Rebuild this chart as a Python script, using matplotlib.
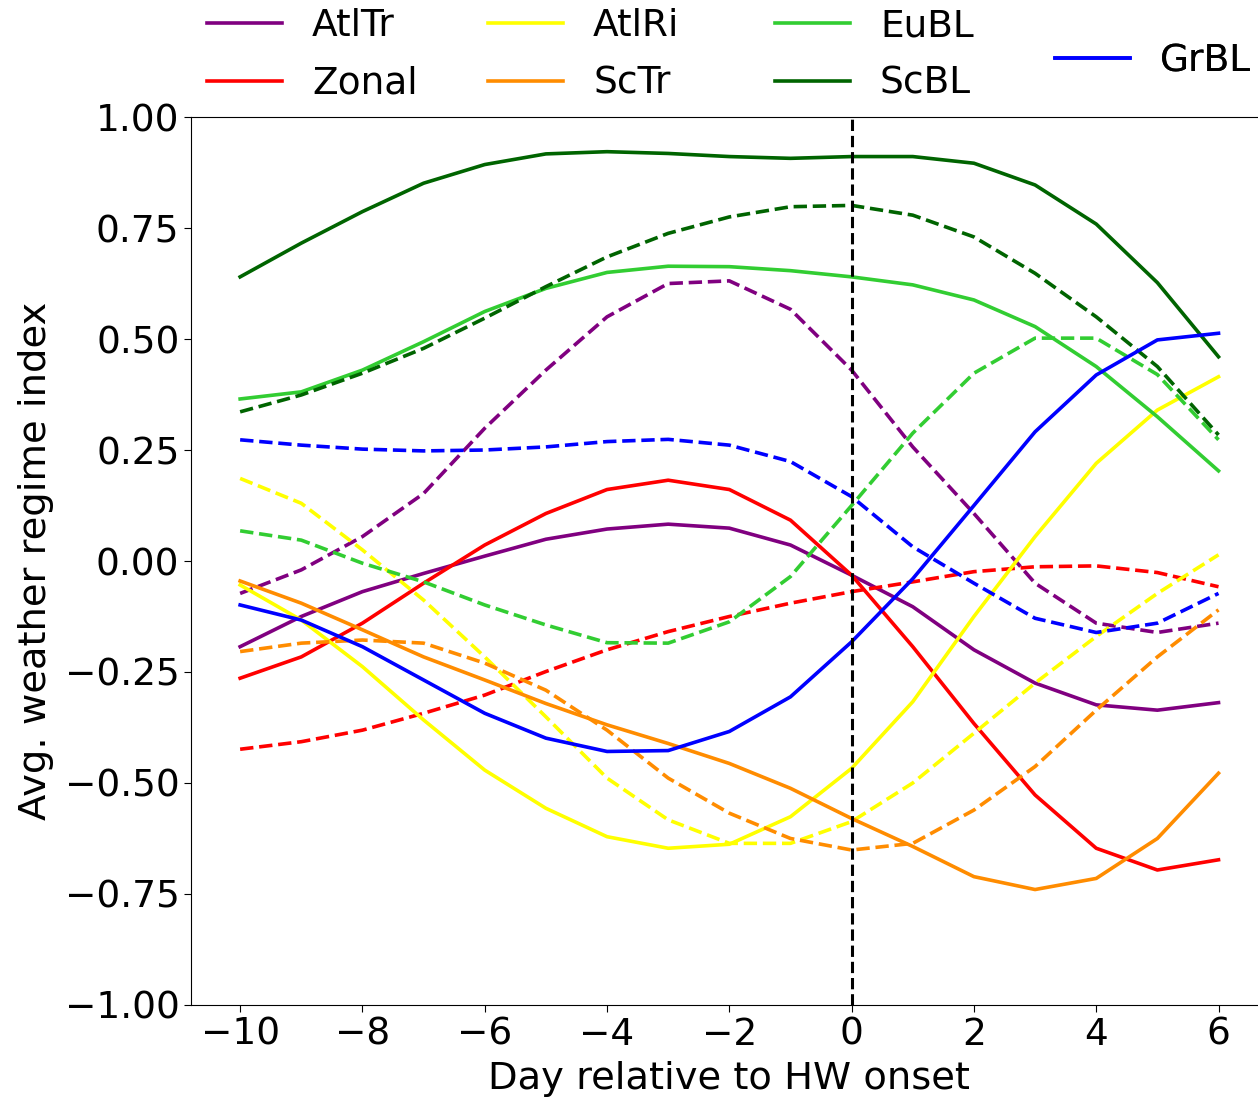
import numpy as np
import matplotlib
matplotlib.use("Agg")
import matplotlib.pyplot as plt

days = np.arange(-10, 7)

regimes = ['AtlTr', 'Zonal', 'AtlRi', 'ScTr', 'EuBL', 'ScBL', 'GrBL']
colors = ['purple', 'red', 'yellow', 'darkorange', 'limegreen', 'darkgreen', 'blue']

# solid lines
atltr = [-0.193, -0.125, -0.069, -0.028, 0.011, 0.049, 0.072, 0.083, 0.074, 0.036, -0.032,
         -0.103, -0.200, -0.275, -0.324, -0.336, -0.319]
zonal = [-0.264, -0.216, -0.140, -0.050, 0.036, 0.107, 0.161, 0.182, 0.161, 0.092, -0.032,
         -0.193, -0.366, -0.527, -0.647, -0.696, -0.673]
atlri = [-0.054, -0.133, -0.238, -0.358, -0.471, -0.557, -0.621, -0.647, -0.638, -0.576, -0.467,
         -0.317, -0.125, 0.055, 0.220, 0.340, 0.415]
sctr = [-0.045, -0.095, -0.155, -0.216, -0.268, -0.321, -0.369, -0.411, -0.456, -0.512, -0.580,
        -0.643, -0.711, -0.740, -0.715, -0.625, -0.478]
eubl = [0.365, 0.381, 0.430, 0.494, 0.562, 0.614, 0.650, 0.664, 0.663, 0.654, 0.640,
        0.622, 0.588, 0.528, 0.438, 0.325, 0.203]
scbl = [0.640, 0.716, 0.787, 0.851, 0.893, 0.917, 0.922, 0.918, 0.911, 0.907, 0.911,
        0.911, 0.896, 0.847, 0.759, 0.627, 0.460]
grbl = [-0.099, -0.133, -0.193, -0.268, -0.343, -0.399, -0.429, -0.427, -0.384, -0.306, -0.182,
        -0.040, 0.125, 0.291, 0.419, 0.498, 0.513]

# dashed lines
atltr_d = [-0.073, -0.020, 0.055, 0.152, 0.299, 0.430, 0.550, 0.625, 0.631, 0.567, 0.430,
           0.257, 0.107, -0.050, -0.140, -0.161, -0.140]
zonal_d = [-0.424, -0.407, -0.381, -0.343, -0.302, -0.249, -0.200, -0.159, -0.125, -0.095, -0.069,
           -0.047, -0.024, -0.013, -0.011, -0.026, -0.058]
atlri_d = [0.186, 0.130, 0.025, -0.088, -0.216, -0.351, -0.489, -0.583, -0.636, -0.636, -0.587,
           -0.500, -0.388, -0.275, -0.170, -0.073, 0.014]
sctr_d = [-0.204, -0.185, -0.178, -0.185, -0.230, -0.291, -0.381, -0.489, -0.568, -0.625, -0.651,
          -0.636, -0.561, -0.463, -0.336, -0.216, -0.110]
eubl_d = [0.068, 0.047, -0.005, -0.047, -0.099, -0.144, -0.184, -0.185, -0.137, -0.035, 0.125,
          0.288, 0.423, 0.502, 0.502, 0.420, 0.273]
scbl_d = [0.336, 0.374, 0.423, 0.479, 0.547, 0.618, 0.685, 0.738, 0.775, 0.798, 0.801,
          0.779, 0.730, 0.648, 0.550, 0.438, 0.284]
grbl_d = [0.273, 0.261, 0.252, 0.248, 0.250, 0.257, 0.269, 0.274, 0.261, 0.224, 0.145,
          0.032, -0.050, -0.129, -0.161, -0.140, -0.073]

solid = [atltr, zonal, atlri, sctr, eubl, scbl, grbl]
dashed = [atltr_d, zonal_d, atlri_d, sctr_d, eubl_d, scbl_d, grbl_d]

fs = 27
W, H = 1258, 1097
fig = plt.figure(figsize=(W / 100, H / 100), dpi=100)
ax = fig.add_axes([0.152, 0.0839, 0.8555, 0.8094])

lines = []
for name, col, ys, yd in zip(regimes, colors, solid, dashed):
    l, = ax.plot(days, ys, color=col, lw=2.6, label=name)
    ax.plot(days, yd, color=col, lw=2.6, ls='--')
    lines.append(l)

ax.axvline(0, color='black', ls='--', lw=2.2)

ax.set_xlim(-10.8, 6.8)
ax.set_ylim(-1, 1)
ax.set_xticks(np.arange(-10, 7, 2))
ax.set_yticks(np.arange(-1, 1.01, 0.25))
ax.tick_params(labelsize=fs, length=5)
ax.set_xlabel('Day relative to HW onset', fontsize=27.7, labelpad=6)
ax.set_ylabel('Avg. weather regime index', fontsize=27.7, labelpad=7.5)

# legend columns above the axes (GrBL sits alone, vertically centred)
groups = [([0, 1], 207, 55), ([2, 3], 488, 55), ([4, 5], 775, 55), ([6], 1055, 61)]
for idx, px, py in groups:
    leg = ax.legend([lines[i] for i in idx], [regimes[i] for i in idx],
                    loc='center left', bbox_to_anchor=(px / W, 1 - py / H),
                    bbox_transform=fig.transFigure, frameon=False, fontsize=fs,
                    borderpad=0, borderaxespad=0, labelspacing=0.58, handlelength=2.0)
    ax.add_artist(leg)

fig.savefig('out.png', dpi=100)
